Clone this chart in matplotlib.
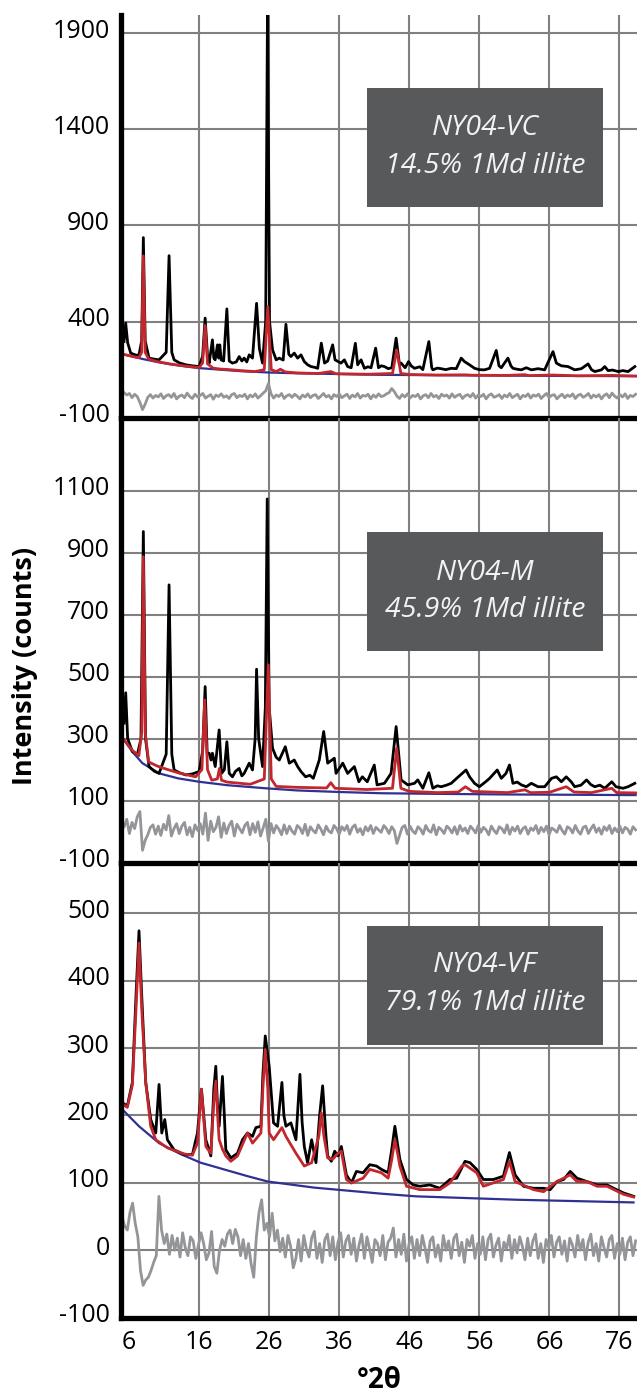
"""Three stacked XRD panels (NY04-VC / NY04-M / NY04-VF): observed, calculated, background, residual."""
import matplotlib
matplotlib.use("Agg")
import matplotlib.pyplot as plt
import matplotlib.transforms as mtransforms
from matplotlib.patches import Rectangle
import numpy as np

plt.rcParams["font.family"] = ["Open Sans", "DejaVu Sans"]
plt.rcParams["axes.unicode_minus"] = False

BLACK = "#000000"
RED = "#c1272d"
BLUE = "#2e3192"
GREY = "#939598"
BOX = "#58595b"

X_TICKS = [6, 16, 26, 36, 46, 56, 66, 76]

# ---------------- NY04-VC ----------------
VC_LABEL = ["NY04-VC", "14.5% 1Md illite"]
VC_YTICKS = [-100, 400, 900, 1400, 1900]
VC_OBS = [(5.28, 296), (5.52, 392), (5.8, 290), (6.24, 236), (7.0, 225), (7.42, 227), (7.8, 300),
          (8.04, 837), (8.3, 300), (8.85, 210), (9.5, 205), (10.28, 201), (11.3, 240), (11.71, 743), (12.1, 240),
          (12.43, 201), (13.2, 185), (14.1, 175), (15.0, 170), (16.0, 166), (16.5, 220), (16.86, 418), (17.2, 220),
          (17.43, 184), (17.9, 305), (18.1, 210), (18.29, 201), (18.62, 279), (18.8, 210), (18.95, 279),
          (19.15, 201), (19.5, 195), (19.96, 466), (20.3, 195), (20.76, 184), (21.3, 190), (21.72, 218),
          (22.1, 195), (22.43, 210), (22.8, 190), (23.15, 227), (23.62, 210), (24.2, 495), (24.6, 260),
          (25.05, 184), (25.5, 400), (25.77, 2100), (26.05, 400), (26.48, 253), (27.0, 201), (27.44, 210),
          (28.0, 200), (28.39, 386), (28.8, 230), (29.1, 218), (29.58, 236), (30.06, 210), (30.54, 227),
          (31.01, 192), (31.5, 175), (31.97, 166), (32.5, 162), (32.92, 157), (33.44, 288), (33.9, 184),
          (34.35, 195), (35.06, 279), (35.4, 201), (36.26, 184), (36.73, 201), (37.2, 166), (37.7, 160),
          (38.3, 287), (38.63, 175), (39.12, 201), (39.59, 157), (40.1, 165), (40.54, 160), (41.2, 262),
          (41.6, 160), (42.0, 170), (42.45, 166), (43.0, 155), (43.5, 160), (44.12, 314), (44.6, 175),
          (44.83, 184), (45.4, 160), (45.9, 192), (46.26, 170), (46.74, 157), (47.5, 165), (47.93, 150),
          (48.79, 296), (49.2, 160), (49.36, 149), (50.0, 158), (50.55, 155), (51.2, 150), (51.98, 157),
          (52.7, 155), (53.41, 210), (53.88, 192), (54.6, 175), (55.31, 157), (56.0, 150), (56.74, 149),
          (57.46, 157), (58.41, 250), (58.8, 170), (59.13, 160), (60.08, 210), (60.5, 170), (60.79, 157),
          (61.4, 152), (61.99, 149), (62.7, 160), (63.42, 149), (64.37, 155), (65.32, 149), (66.51, 244),
          (66.99, 184), (67.7, 170), (68.65, 166), (69.61, 149), (70.56, 155), (71.52, 180), (72.0, 150),
          (72.47, 140), (73.43, 149), (73.9, 166), (74.37, 145), (75.0, 148), (75.8, 140), (76.5, 145),
          (77.23, 140), (78.19, 166)]
VC_CALC = [(5.3, 229), (6.5, 219), (7.4, 212), (7.8, 240), (8.04, 742), (8.3, 240), (8.8, 205), (10, 192),
           (12, 179), (14, 169), (16, 161), (16.5, 185), (16.86, 380), (17.2, 180), (18, 158), (19, 153),
           (20, 151), (22, 145), (24, 140), (25.3, 150), (25.8, 478), (26.3, 150), (27, 140), (27.6, 152),
           (28.3, 138), (30, 133), (33, 130), (34.8, 140), (35.5, 129), (40, 126), (43.6, 130), (44.2, 253),
           (44.8, 130), (46, 125), (50, 122), (54, 123), (55, 121), (60, 120), (62.5, 124), (63, 119),
           (66.5, 122), (70, 118), (74.9, 120), (78.3, 117)]
VC_BKG = [(5.3, 228), (6.5, 218), (8, 205), (10, 190), (12, 177), (14, 167), (16, 158), (19, 150),
          (22, 142), (26, 135), (30, 131), (36, 127), (42, 123), (50, 121), (60, 119), (70, 117), (78.3, 116)]
VC_RESID = [30, 18, 26, 4, 22, 10, -20, -58, -30, 6, 20, 2, 16, 8,
            24, 0, 14, 20, 6, 26, -2, 12, 18, 4, 28, 10, 0, 22,
            8, 16, 26, 2, 12, 20, -4, 18, 10, 24, 6, 14, 0, 20,
            26, 4, 16, 10, 22, -2, 18, 8, 24, 2, 14, 28, 40, 78,
            24, 2, 18, 10, 26, 0, 14, 20, 6, 22, 12, -2, 18, 8,
            24, 4, 16, 20, 0, 12, 26, 8, 16, -2, 20, 10, 24, 4,
            14, 22, 0, 18, 8, 26, 2, 16, 12, 22, -2, 18, 6, 24,
            10, 14, 24, 30, 52, 36, 12, 0, 20, 8, 24, 2, 16, 10,
            22, -2, 14, 20, 4, 26, 8, 16, 0, 22, 12, 18, 2, 24,
            6, 16, 22, 0, 14, 20, 8, 26, 2, 18, 10, 22, -2, 16,
            24, 6, 12, 20, 0, 18, 8, 26, 4, 14, 22, -2, 16, 10,
            24, 2, 18, 12, 22, 0, 14, 26, 6, 16, 20, -2, 12, 22,
            4, 18, 10, 24, 0, 16, 22, 6, 14, 26, 2, 18, 8, 20,
            -2, 16, 24, 4, 28, 12, 2, 20, 8, 24, 0, 16, 10, 22]

# ---------------- NY04-M ----------------
M_LABEL = ["NY04-M", "45.9% 1Md illite"]
M_YTICKS = [-100, 100, 300, 500, 700, 900, 1100]
M_OBS = [(5.28, 350), (5.52, 448), (5.8, 300), (6.47, 258), (7.2, 250), (7.7, 300), (8.04, 968),
         (8.35, 300), (8.85, 210), (9.6, 195), (10.28, 188), (11.3, 250), (11.71, 796), (12.1, 250), (12.43, 199),
         (13.2, 190), (14.1, 183), (15.0, 186), (16.0, 194), (16.5, 260), (16.86, 468), (17.15, 253),
         (17.43, 253), (17.7, 231), (17.9, 253), (18.3, 210), (18.86, 328), (19.2, 188), (19.6, 200),
         (19.96, 290), (20.3, 188), (20.76, 177), (21.2, 195), (21.72, 204), (22.1, 180), (22.43, 188),
         (23.15, 221), (23.62, 199), (24.0, 300), (24.2, 524), (24.5, 300), (25.05, 210), (25.45, 400),
         (25.72, 1073), (26.0, 400), (26.48, 269), (27.0, 240), (27.44, 231), (28.3, 274), (28.87, 221),
         (29.58, 231), (30.06, 210), (30.54, 194), (31.2, 177), (31.8, 182), (32.3, 172), (33.15, 231),
         (33.78, 323), (34.35, 221), (35.3, 237), (35.54, 188), (36.5, 221), (37.2, 188), (38.16, 210),
         (38.8, 161), (39.3, 177), (40.0, 161), (41.0, 215), (41.4, 151), (42.45, 156), (43.4, 188),
         (44.12, 339), (44.83, 167), (45.78, 151), (46.74, 156), (47.21, 167), (47.93, 140), (48.79, 190),
         (49.36, 140), (50.0, 148), (50.55, 145), (51.3, 150), (51.98, 156), (53.0, 177), (54.1, 199),
         (54.6, 177), (55.31, 156), (56.0, 145), (56.9, 161), (57.46, 172), (58.55, 199), (59.13, 172),
         (59.8, 188), (60.3, 215), (60.79, 156), (61.4, 160), (61.99, 151), (62.7, 145), (63.42, 156),
         (64.37, 145), (65.32, 145), (66.3, 172), (66.99, 177), (67.7, 161), (68.4, 177), (69.1, 161),
         (69.61, 145), (70.5, 150), (71.3, 167), (71.9, 152), (72.47, 145), (73.2, 150), (73.9, 140),
         (74.9, 161), (75.5, 145), (76.5, 140), (77.23, 145), (78.19, 156)]
M_CALC = [(5.28, 296), (6.47, 262), (7.4, 245), (7.8, 320), (8.04, 887), (8.3, 320), (8.8, 225), (10, 212),
          (11, 204), (13, 190), (15.5, 177), (16.4, 200), (16.8, 425), (17.2, 200), (17.8, 166), (18.6, 170),
          (18.9, 204), (19.2, 166), (20, 160), (23.3, 153), (25.3, 170), (25.87, 538), (26.3, 170), (27, 146),
          (30, 143), (34.2, 141), (34.8, 158), (35.4, 140), (40, 136), (43.6, 140), (44.2, 269), (44.8, 140),
          (46, 130), (50, 126), (53, 128), (54, 145), (55, 130), (60, 126), (62.5, 135), (63.3, 126),
          (66, 127), (68.4, 145), (69.5, 128), (72, 126), (74.9, 140), (75.6, 126), (78.3, 125)]
M_BKG = [(5.28, 296), (6.47, 258), (7.9, 221), (10.3, 188), (13, 172), (16, 161), (20, 150), (25.5, 140),
         (30, 133), (36, 128), (42, 124), (50, 122), (60, 120), (70, 119), (78.3, 118)]
M_RESID = [16, 40, -6, 30, 10, 48, 65, -60, -28, -10, 14, 22, -8, 18,
           -12, 24, 6, 52, -14, 10, 26, -6, 18, 30, -10, 14, -16, 22,
           4, 26, -8, 60, -28, 34, 0, 14, 48, -18, 28, -6, 20, 34,
           -14, 24, 10, -4, 20, 30, -10, 26, -2, 32, -14, 12, 40, -30,
           26, -4, 20, 8, -10, 22, -6, 18, 2, -8, 20, 12, -6, 24,
           -12, 16, 4, -4, 22, 8, -10, 18, 2, -4, 20, 10, -8, 16,
           4, 20, -8, 14, 22, -2, 10, -10, 16, 2, 20, -6, 14, 6,
           -2, 20, 10, -6, 16, 4, -38, -12, 14, 20, -8, 18, 2, -6,
           16, 8, -8, 20, 4, -2, 22, -10, 14, 6, -6, 18, 10, -4,
           16, -8, 20, 2, 12, -6, 18, 8, -4, 20, -2, 14, 6, -10,
           18, 4, -6, 16, 10, -4, 22, -8, 14, 2, 18, -6, 10, 16,
           -8, 12, 4, 20, -6, 14, 0, 18, -10, 12, 6, -2, 20, 4,
           -8, 16, 10, -4, 20, 2, -8, 14, 18, -6, 10, 22, -2, 12,
           -8, 16, 4, 20, -6, 12, 0, 18, -4, 14, 8, -8, 16, 6]

# ---------------- NY04-VF ----------------
VF_LABEL = ["NY04-VF", "79.1% 1Md illite"]
VF_YTICKS = [-100, 0, 100, 200, 300, 400, 500]
VF_OBS = [(4.95, 278), (5.04, 219), (5.75, 214), (6.47, 249), (7.0, 380), (7.42, 474), (7.8, 380), (8.38, 249),
          (9.09, 194), (9.81, 174), (10.28, 246), (10.67, 174), (11.1, 194), (11.47, 164), (12.43, 149),
          (13.86, 142), (15.04, 142), (15.76, 174), (16.33, 239), (16.96, 164), (17.67, 140), (18.1, 240),
          (18.38, 273), (18.6, 220), (18.86, 184), (19.33, 258), (19.6, 200), (19.81, 149), (20.53, 137),
          (21.48, 144), (22.19, 164), (22.9, 174), (23.62, 169), (24.1, 182), (24.82, 184), (25.1, 260),
          (25.44, 318), (26.0, 273), (26.62, 189), (27.2, 184), (27.82, 249), (28.1, 200), (28.39, 184),
          (29.1, 189), (29.82, 164), (30.39, 261), (30.7, 190), (31.01, 154), (31.48, 130), (32.06, 164),
          (32.68, 130), (33.2, 200), (33.63, 244), (34.1, 170), (34.35, 140), (34.87, 132), (35.35, 147),
          (35.83, 140), (36.3, 154), (37.02, 112), (37.74, 100), (38.45, 117), (39.4, 115), (40.36, 127),
          (41.31, 125), (42.03, 120), (42.98, 115), (43.5, 150), (43.94, 184), (44.65, 135), (45.6, 105),
          (46.56, 97), (47.51, 95), (48.94, 97), (50.37, 92), (51.8, 105), (52.76, 107), (53.95, 132),
          (54.66, 130), (55.62, 120), (56.57, 105), (58.0, 105), (59.43, 110), (60.29, 145), (61.1, 112),
          (62.3, 95), (63.73, 92), (65.16, 92), (66.11, 90), (67.07, 102), (68.02, 105), (68.97, 117),
          (69.93, 107), (71.36, 102), (72.79, 97), (74.22, 97), (75.17, 92), (76.6, 85), (78.03, 80)]
VF_CALC = [(5.04, 217), (5.75, 212), (6.47, 245), (7.0, 360), (7.42, 456), (7.8, 360), (8.38, 249), (9.09, 184),
           (9.81, 164), (11.47, 152), (13.86, 143), (15.04, 141), (15.76, 159), (16.33, 239), (16.96, 154),
           (17.67, 144), (18.1, 220), (18.38, 251), (18.7, 190), (18.86, 164), (19.33, 150), (19.81, 140),
           (20.53, 132), (21.48, 140), (22.9, 174), (23.62, 159), (24.82, 174), (25.1, 240), (25.44, 298),
           (25.8, 240), (26.0, 174), (26.62, 164), (27.82, 182), (28.39, 169), (29.82, 144), (31.01, 125),
           (32.06, 130), (33.1, 170), (33.44, 204), (33.8, 170), (34.35, 137), (35.06, 135), (35.83, 144),
           (36.3, 147), (37.02, 105), (37.74, 100), (39.4, 107), (40.36, 120), (42.03, 115), (42.98, 107),
           (43.5, 135), (43.94, 164), (44.4, 140), (44.65, 125), (45.6, 95), (47.51, 90), (50.37, 90),
           (51.8, 100), (53.5, 125), (53.95, 127), (55.62, 115), (56.57, 95), (58.0, 100), (59.43, 105),
           (60.29, 132), (61.1, 102), (63.73, 90), (65.16, 87), (67.07, 102), (68.97, 112), (69.93, 102),
           (71.36, 102), (72.79, 95), (74.22, 95), (76.6, 83), (78.03, 79)]
VF_BKG = [(5.04, 209), (7.42, 184), (10.28, 159), (13.3, 143), (16.2, 130), (22.9, 110), (25.8, 102),
          (32.4, 93), (42, 84), (47, 80), (61.3, 75), (78, 71)]
VF_RESID = [50, 36, 30, 56, 70, 40, 20, -30, -52, -44, -40, -30, -18, -8,
            80, 30, 10, 24, -6, 22, 0, 18, -10, 26, 4, -8, 20, 14,
            -12, 8, 26, 10, -14, -4, 28, -24, -34, 0, 16, 6, 24, 30,
            10, 31, 20, -8, 16, -12, 10, -20, -40, 20, 56, 75, 30, 40,
            20, 55, 14, 30, -2, 18, -10, 22, 6, -26, -12, 16, -16, 22,
            2, -10, 18, 28, -12, 10, -18, 16, 24, -8, 20, -14, 12, 26,
            -10, 14, 22, -6, 18, -16, 8, 24, -12, 20, 2, -18, 16, 10,
            -8, 22, -14, 12, 18, 33, -10, 16, -6, 24, -16, 10, 20, -12,
            16, -8, 22, 4, -18, 14, 20, -10, 8, -16, 22, 0, 14, -12,
            18, 24, -8, 12, -18, 16, 6, 22, -12, 10, -6, 20, -14, 16,
            24, -10, 8, 18, -16, 12, 2, 22, -12, 16, -4, 20, 6, -14,
            18, -8, 14, 24, -12, 10, -18, 16, 4, 22, -10, 12, 20, -6,
            14, -16, 18, 8, -10, 22, 0, 16, -14, 12, 24, -8, 10, -16,
            20, 4, -10, 16, 22, -12, 10, -6, 18, -14, 12, 20, -8, 14]

PANELS = [
    (VC_LABEL, VC_YTICKS, VC_OBS, VC_CALC, VC_BKG, VC_RESID, 1995, 5.3),
    (M_LABEL, M_YTICKS, M_OBS, M_CALC, M_BKG, M_RESID, 1335, 5.3),
    (VF_LABEL, VF_YTICKS, VF_OBS, VF_CALC, VF_BKG, VF_RESID, 575, 5.0),
]
# pixel frame of each panel: top, bottom, box top, label line 1, label line 2
FRAMES = [(15, 417.7, 88, 128, 166), (417.7, 862.7, 532, 573, 610), (862.7, 1317.7, 926, 965, 1003)]

W, H = 637, 1396
fig = plt.figure(figsize=(W / 100, H / 100), dpi=100)
LEFT = 121


def xy(pairs):
    a = np.array(pairs, dtype=float)
    return a[:, 0], a[:, 1]


for k, ((label, yticks, obs, calc, bkg, resid, ymax, x0), (top, bot, btop, l1, l2)) in enumerate(zip(PANELS, FRAMES)):
    ax = fig.add_axes([LEFT / W, 1 - bot / H, (W - LEFT) / W, (bot - top) / H])
    ax.patch.set_visible(False)
    ax.set_xlim(4.85, 78.5)
    ax.set_ylim(-100, ymax)

    rx = np.linspace(x0, 78.3, len(resid))
    ax.plot(rx, resid, color=GREY, lw=2.0, zorder=3)
    ax.plot(*xy(bkg), color=BLUE, lw=1.6, zorder=4)
    ax.plot(*xy(obs), color=BLACK, lw=2.0, zorder=5)
    ax.plot(*xy(calc), color=RED, lw=2.0, zorder=6)

    ax.set_yticks(yticks)
    ax.set_yticklabels([str(v) for v in yticks])
    ax.set_xticks(X_TICKS)
    if k == 2:
        ax.set_xticklabels([str(v) for v in X_TICKS])
    else:
        ax.set_xticklabels([])
    ax.tick_params(length=0, labelsize=18, colors="black")
    ax.tick_params(axis="y", pad=8)
    ax.tick_params(axis="x", pad=9)
    ax.grid(True, color="#808080", lw=1.5, zorder=1)
    ax.xaxis.get_gridlines()[0].set_visible(False)
    ax.set_axisbelow(True)
    for s in ("top", "right"):
        ax.spines[s].set_visible(False)
    for s in ("left", "bottom"):
        ax.spines[s].set_linewidth(3.8)
        ax.spines[s].set_color("black")
        ax.spines[s].set_zorder(8)

    off = mtransforms.ScaledTranslation(0, 5 / 100, fig.dpi_scale_trans)
    for lab in ax.get_yticklabels():
        lab.set_transform(lab.get_transform() + off)

    # sample box
    bx0, bx1 = 367, 603
    fig.add_artist(Rectangle((bx0 / W, 1 - (btop + 119) / H), (bx1 - bx0) / W, 119 / H,
                             transform=fig.transFigure, facecolor=BOX, edgecolor="none", zorder=10))
    cx = (bx0 + bx1) / 2 / W
    fig.text(cx, 1 - l1 / H, label[0], ha="center", va="center", color="#f2f2f2",
             fontsize=20.5, style="italic", zorder=11)
    fig.text(cx, 1 - l2 / H, label[1], ha="center", va="center", color="#f2f2f2",
             fontsize=20.5, style="italic", zorder=11)

fig.text(25 / W, 1 - 666 / H, "Intensity (counts)", rotation=90, ha="center", va="center",
         fontsize=19.5, fontweight="bold")
fig.text((LEFT + W) / 2 / W, 1 - 1381 / H, "°2θ", ha="center", va="center",
         fontsize=20, fontweight="bold")

fig.savefig("out.png", dpi=100)
